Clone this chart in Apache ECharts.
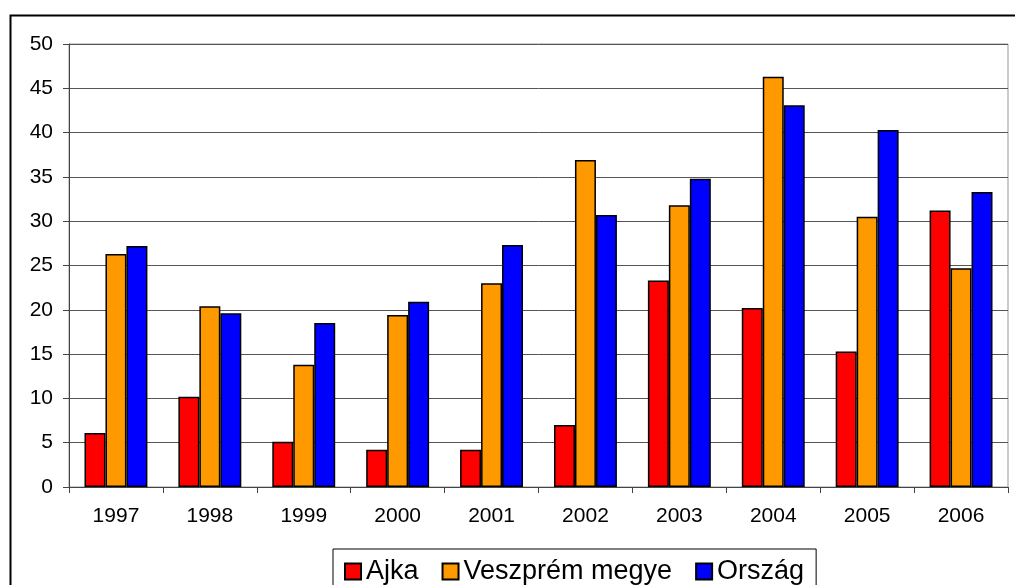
<!DOCTYPE html>
<html>
<head>
<meta charset="utf-8">
<script src="https://cdn.jsdelivr.net/npm/echarts@6/dist/echarts.min.js"></script>
<style>
html,body{margin:0;padding:0;background:#fff;}
#chart{width:1015px;height:585px;}
</style>
</head>
<body>
<div id="chart"></div>
<script>
const categories = ['1997','1998','1999','2000','2001','2002','2003','2004','2005','2006'];
const ajka = [6.1, 10.2, 5.1, 4.2, 4.2, 7.0, 23.3, 20.2, 15.3, 31.2];
const veszprem = [26.3, 20.4, 13.8, 19.4, 23.0, 36.9, 31.8, 46.3, 30.5, 24.7];
const orszag = [27.2, 19.6, 18.5, 20.9, 27.3, 30.7, 34.8, 43.1, 40.3, 33.3];
const seriesNames = ['Ajka', 'Veszprém megye', 'Ország'];

const font = '"Liberation Sans", Arial, sans-serif';
const chart = echarts.init(document.getElementById('chart'), null, {renderer: 'canvas'});
const barStyle = (c) => ({color: c, borderColor: '#000', borderWidth: 1.5});
chart.setOption({
  animation: false,
  backgroundColor: '#fff',
  graphic: [{
    type: 'rect', left: 8, top: 13, silent: true, z: 100,
    shape: {x: 0, y: 0, width: 1100, height: 700},
    style: {fill: 'none', stroke: '#000', lineWidth: 2}
  }],
  grid: {left: 69, top: 44, right: 7, bottom: 98, show: true, borderColor: '#999', borderWidth: 1},
  legend: {
    left: 333, top: 549,
    padding: [9, 12, 10, 11],
    itemGap: 23, itemWidth: 16, itemHeight: 16,
    borderColor: '#000', borderWidth: 1,
    textStyle: {fontFamily: font, fontSize: 27, color: '#000'},
    data: seriesNames.map(n => ({name: n, icon: 'rect'}))
  },
  xAxis: {
    type: 'category', data: categories,
    axisLine: {lineStyle: {color: '#444', width: 1}},
    axisTick: {show: true, alignWithLabel: false, length: 6, lineStyle: {color: '#444'}},
    axisLabel: {fontFamily: font, fontSize: 21, color: '#000', margin: 19},
    splitLine: {show: false}
  },
  yAxis: {
    type: 'value', min: 0, max: 50, interval: 5,
    axisLine: {show: true, lineStyle: {color: '#444', width: 1}},
    axisTick: {show: true, length: 6, lineStyle: {color: '#444'}},
    axisLabel: {fontFamily: font, fontSize: 21, color: '#000', margin: 16},
    splitLine: {show: true, lineStyle: {color: '#555', width: 1}}
  },
  series: [
    {name: seriesNames[0], type: 'bar', data: ajka, itemStyle: barStyle('#FF0000'), barGap: '0%', barCategoryGap: '33%'},
    {name: seriesNames[1], type: 'bar', data: veszprem, itemStyle: barStyle('#FF9900'), barGap: '0%', barCategoryGap: '33%'},
    {name: seriesNames[2], type: 'bar', data: orszag, itemStyle: barStyle('#0000FF'), barGap: '0%', barCategoryGap: '33%'}
  ]
});
</script>
</body>
</html>
